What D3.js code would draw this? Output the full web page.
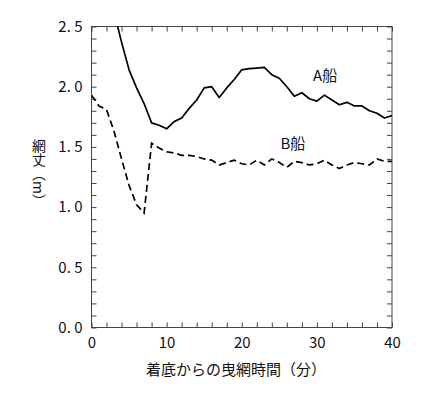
<!DOCTYPE html>
<html>
<head>
<meta charset="utf-8">
<script src="https://cdn.jsdelivr.net/npm/d3@7/dist/d3.min.js"></script>
<style>
    body {margin: 0; background: #fff;}
    svg {display: block;}
    text {font-family: "Noto Sans CJK JP", "Noto Sans", sans-serif; fill: #111;}
</style>
</head>
<body>
<svg id="chart" width="439" height="396"></svg>
<script>
// data (minutes after touching bottom, net height in m)
const timesA = [3, 4, 5, 6, 7, 8, 9, 10, 11, 12, 13, 14, 15, 16, 17, 18, 19, 20, 21,
                22, 23, 24, 25, 26, 27, 28, 29, 30, 31, 32, 33, 34, 35, 36, 37, 38, 39, 40]
const shipA = [2.62, 2.37, 2.14, 1.99, 1.86, 1.70, 1.68, 1.65, 1.71, 1.74, 1.82, 1.89, 1.99, 2.00, 1.91, 1.99, 2.06, 2.14, 2.15,
               2.155, 2.16, 2.10, 2.07, 2.00, 1.92, 1.95, 1.90, 1.88, 1.93, 1.89, 1.85, 1.87, 1.84, 1.84, 1.80, 1.78, 1.74, 1.76]

const timesB = [0, 1, 2, 3, 4, 5, 6, 7, 8, 9, 10, 11, 12, 13, 14, 15, 16, 17, 18, 19, 20,
                21, 22, 23, 24, 25, 26, 27, 28, 29, 30, 31, 32, 33, 34, 35, 36, 37, 38, 39, 40]
const shipB = [1.93, 1.84, 1.81, 1.63, 1.40, 1.18, 1.02, 0.95, 1.53, 1.49, 1.46, 1.45, 1.43, 1.43, 1.42, 1.40, 1.39, 1.35, 1.37, 1.39, 1.36,
               1.35, 1.39, 1.35, 1.40, 1.37, 1.33, 1.38, 1.37, 1.35, 1.36, 1.39, 1.35, 1.32, 1.35, 1.37, 1.36, 1.35, 1.40, 1.38, 1.38]

const xTicks = [0, 10, 20, 30, 40]
const yTicks = [0, 0.5, 1, 1.5, 2, 2.5]
const yTickLabels = ['0.\u00a00', '0.\u00a05', '1.\u00a00', '1.\u00a05', '2.\u00a00', '2.\u00a05']
const labelA = 'A船', labelB = 'B船'
const xTitle = '着底からの曳網時間（分）', yTitle = '網丈（m）'

const svg = d3.select('#chart')

const plotLeft = 91.5, plotRight = 392, plotTop = 26.5, plotBottom = 327.5,
      tick = 5, axisColor = '#444'

//scales
const xScale = d3.scaleLinear().domain([0, 40]).range([plotLeft, plotRight])
const yScale = d3.scaleLinear().domain([0, 2.5]).range([plotBottom, plotTop])

//minor ticks on all four sides, pointing inward
const tickAxis = (axis, transform) => {
    const g = svg.append('g')
                 .attr('transform', transform)
                 .call(axis.tickFormat('').tickSizeInner(-tick).tickSizeOuter(0))
    g.select('.domain').remove()
    g.selectAll('line').attr('stroke', axisColor)
}
tickAxis(d3.axisBottom(xScale).tickValues(d3.range(0, 41, 2)), `translate(0,${plotBottom})`)
tickAxis(d3.axisTop(xScale).tickValues(d3.range(0, 41, 2)), `translate(0,${plotTop})`)
tickAxis(d3.axisLeft(yScale).tickValues(d3.range(0, 26).map(d => d / 10)), `translate(${plotLeft},0)`)
tickAxis(d3.axisRight(yScale).tickValues(d3.range(0, 26).map(d => d / 10)), `translate(${plotRight},0)`)

//frame
svg.append('rect')
   .attr('x', plotLeft).attr('y', plotTop)
   .attr('width', plotRight - plotLeft).attr('height', plotBottom - plotTop)
   .style('fill', 'none')
   .style('stroke', axisColor)
   .style('stroke-width', 1)

//tick labels
const xLabels = svg.append('g')
                   .attr('transform', `translate(0,${plotBottom})`)
                   .call(d3.axisBottom(xScale).tickValues(xTicks).tickSize(0).tickPadding(10))
xLabels.select('.domain').remove()
xLabels.selectAll('text').style('font-size', '15px').style('font-family', null)

const yLabels = svg.append('g')
                   .attr('transform', `translate(${plotLeft},0)`)
                   .call(d3.axisLeft(yScale).tickValues(yTicks).tickSize(0).tickPadding(9)
                           .tickFormat((d, i) => yTickLabels[i]))
yLabels.select('.domain').remove()
yLabels.selectAll('text').style('font-size', '15px').style('font-family', null)

//clip to the plot area
svg.append('defs').append('clipPath')
   .attr('id', 'clip')
   .append('rect')
   .attr('x', plotLeft).attr('y', plotTop)
   .attr('width', plotRight - plotLeft).attr('height', plotBottom - plotTop)

const line = d3.line()
               .x(d => xScale(d[0]))
               .y(d => yScale(d[1]))

const g = svg.append('g').attr('clip-path', 'url(#clip)')

g.append('path')
 .datum(timesA.map((t, i) => [t, shipA[i]]))
 .attr('d', line)
 .style('fill', 'none')
 .style('stroke', '#000')
 .style('stroke-width', 1.7)
 .style('stroke-linejoin', 'round')

g.append('path')
 .datum(timesB.map((t, i) => [t, shipB[i]]))
 .attr('d', line)
 .style('fill', 'none')
 .style('stroke', '#000')
 .style('stroke-width', 1.7)
 .style('stroke-dasharray', '7,4')

//series labels
svg.append('text')
   .attr('x', xScale(31.1)).attr('y', yScale(2.05))
   .attr('text-anchor', 'middle')
   .style('font-size', '15px')
   .text(labelA)

svg.append('text')
   .attr('x', xScale(26.8)).attr('y', yScale(1.48))
   .attr('text-anchor', 'middle')
   .style('font-size', '15px')
   .text(labelB)

//axis titles
svg.append('text')
   .attr('x', 236).attr('y', 375)
   .attr('text-anchor', 'middle')
   .style('font-size', '15px')
   .text(xTitle)

svg.append('text')
   .attr('x', 39).attr('y', 139)
   .style('writing-mode', 'vertical-rl')
   .style('font-size', '14px')
   .text(yTitle)
</script>
</body>
</html>
